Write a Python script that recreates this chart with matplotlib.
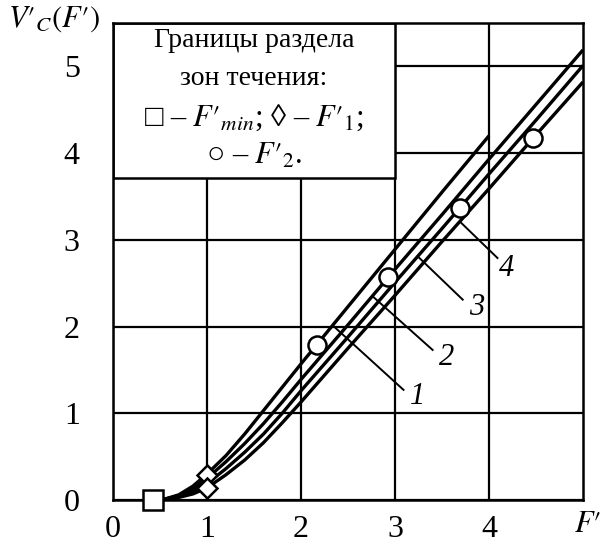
import matplotlib.pyplot as plt
from matplotlib.patches import Rectangle

plt.rcParams['font.family'] = ['Liberation Serif', 'DejaVu Serif']
plt.rcParams['mathtext.fontset'] = 'stix'

# Curves 1-4: V'c as a function of F'
x1 = [0.43, 0.55, 0.7, 0.85, 1.0, 1.2, 1.4, 1.6, 2.0, 2.5, 3.0, 3.5, 4.0]
y1 = [0.0, 0.01, 0.06, 0.16, 0.30, 0.51, 0.76, 1.03, 1.57, 2.23, 2.89, 3.55, 4.2]
x2 = [0.43, 0.55, 0.7, 0.85, 1.0, 1.2, 1.4, 1.6, 1.8, 2.0, 2.5, 3.0, 3.5, 4.0, 4.5, 5.0]
y2 = [0.0, 0.01, 0.05, 0.13, 0.25, 0.44, 0.65, 0.88, 1.13, 1.39, 2.02, 2.66, 3.29, 3.93, 4.56, 5.19]
x3 = [0.43, 0.55, 0.7, 0.85, 1.0, 1.2, 1.4, 1.6, 1.8, 2.0, 2.5, 3.0, 3.5, 4.0, 4.5, 5.0]
y3 = [0.0, 0.01, 0.04, 0.10, 0.19, 0.36, 0.55, 0.76, 1.0, 1.26, 1.88, 2.51, 3.13, 3.76, 4.38, 5.01]
x4 = [0.43, 0.55, 0.7, 0.85, 1.0, 1.2, 1.4, 1.6, 1.8, 2.0, 2.5, 3.0, 3.5, 4.0, 4.5, 5.0]
y4 = [0.0, 0.01, 0.03, 0.07, 0.14, 0.29, 0.46, 0.66, 0.89, 1.13, 1.75, 2.36, 2.98, 3.59, 4.21, 4.82]
curves = [(x1, y1), (x2, y2), (x3, y3), (x4, y4)]

# zone boundaries
fmin_x, fmin_y = [0.43], [0.0]
f1_x, f1_y = [1.0, 1.0], [0.29, 0.14]
f2_x = [2.17, 2.93, 3.69, 4.47]
f2_y = [1.79, 2.57, 3.37, 4.17]

# curve numbers: label position and leader line ends
labels = ['1', '2', '3', '4']
label_xy = [(3.24, 1.19), (3.55, 1.64), (3.87, 2.22), (4.19, 2.67)]
leader_from = [(2.34, 2.01), (2.76, 2.35), (3.24, 2.81), (3.69, 3.21)]
leader_to = [(3.09, 1.27), (3.40, 1.73), (3.72, 2.31), (4.09, 2.79)]

fig = plt.figure(figsize=(6.05, 5.55), dpi=100)
ax = fig.add_axes([0.1868, 0.0991, 0.7769, 0.8595])
ax.set_xlim(0, 5)
ax.set_ylim(0, 5.5)
ax.set_xticks([0, 1, 2, 3, 4])
ax.set_yticks([0, 1, 2, 3, 4, 5])
ax.tick_params(length=0, labelsize=23)
ax.tick_params(axis='y', pad=24)
ax.tick_params(axis='x', pad=11)
ax.grid(True, color='black', linewidth=1.6)
ax.set_axisbelow(True)
for s in ax.spines.values():
    s.set_linewidth(1.8)

# text box in the upper left corner
ax.add_patch(Rectangle((0, 3.71), 3.0, 1.79, facecolor='white', edgecolor='black',
                       linewidth=1.8, zorder=2))
box_lines = ['Границы раздела', 'зон течения:',
             "□ – $F′_{min}$; ◊ – $F′_{1}$;", "○ – $F′_{2}$."]
box_sizes = [20, 20, 22, 22]
for i, (t, fs) in enumerate(zip(box_lines, box_sizes)):
    ax.text(1.5, 5.3 - i * 0.445, t, fontsize=fs, ha='center', va='center', zorder=3)

for cx, cy in curves:
    ax.plot(cx, cy, color='black', linewidth=2.4, zorder=4, solid_capstyle='butt')

for (fx, fy), (tx, ty), lab, (lx, ly) in zip(leader_from, leader_to, labels, label_xy):
    ax.plot([fx, tx], [fy, ty], color='black', linewidth=1.4, zorder=4)
    ax.text(lx, ly, lab, fontsize=22, style='italic', ha='center', va='center', zorder=4)

ax.plot(fmin_x, fmin_y, 's', ms=14, mfc='white', mec='black', mew=1.8, zorder=5, clip_on=False)
ax.plot(f1_x, f1_y, 'D', ms=10, mfc='white', mec='black', mew=1.8, zorder=5)
ax.plot(f2_x, f2_y, 'o', ms=13, mfc='white', mec='black', mew=1.8, zorder=5)

fig.text(0.09, 0.965, "$V′_C(F′)$", fontsize=22, ha='center', va='center')
fig.text(0.972, 0.055, "$F′$", fontsize=22, ha='center', va='center')

fig.savefig('out.png', dpi=100)
